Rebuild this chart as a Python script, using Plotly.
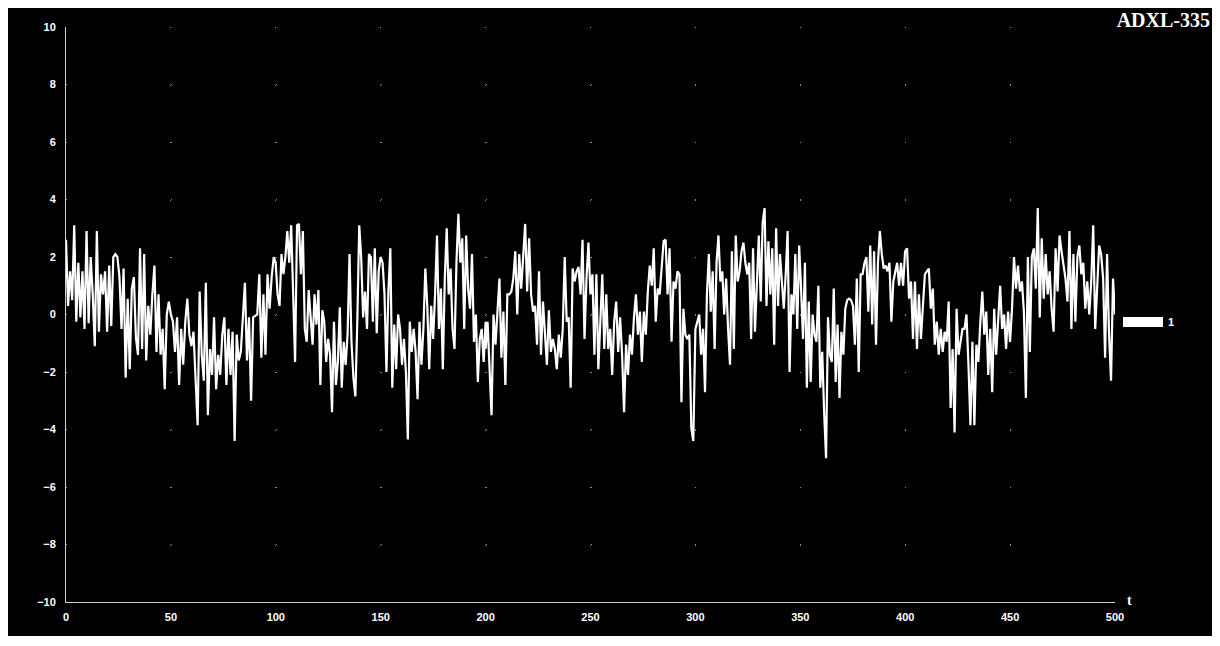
import numpy as np
import plotly.graph_objects as go

# ADXL-335 acceleration readings, by time segment
seg_t = [(0, 99), (99, 200), (200, 299), (300, 398), (399, 500)]

accel_000_099 = [2.6, 0.3, 1.5, 0.5, 3.1, -0.25, 1.8, -0.1, 1.5, -0.5, 2.9, -0.3, 2.0, 0.7, -1.1, 2.9, -0.6, 1.4, 0.7, 1.5,
                 -0.6, 1.7, -0.4, 2.0, 2.1, 2.0, 1.3, -0.5, 1.6, -2.2, 0.55, -1.9, 0.9, 1.3, -0.8, -1.4, 2.3, -1.2, 2.1, -1.6,
                 0.3, -0.7, 0.7, 1.7, -1.3, 0.7, -1.4, -0.5, -2.6, 0.0, 0.45, 0.0, -0.25, -1.3, -0.1, -2.45, -0.5, -1.75, -0.25, 0.55,
                 -0.7, -1.1, -0.6, -2.2, -3.85, 0.8, -1.4, -2.3, 1.1, -3.5, -1.2, -2.1, -0.1, -2.6, -1.4, -2.1, -0.7, -0.1, -2.45, -0.5,
                 -2.1, -0.6, -4.4, -0.7, -1.6, -1.3, 0.0, 1.1, -1.6, -0.1, -3.0, -0.1, -0.05, 0.0, 1.4, -1.5, 0.7, -1.4, 1.4, 0.2,
                 1.3, 2.0]

accel_099_200 = [2.0, 1.8, 0.7, 0.3, 2.1, 1.4, 2.0, 2.9, 1.8, 3.1, 1.0, -1.65, 3.1, 3.15, 1.4, 2.9, -0.5, -0.95, 0.85, -0.25,
                 -1.05, 0.7, -0.35, 0.85, -2.45, 0.15, -0.25, -1.65, -0.85, -1.4, -3.4, -0.25, -2.45, -1.65, 0.25, -2.55, -0.95, -1.75, -0.7, 2.1,
                 -0.95, -2.2, -2.85, -0.25, 3.1, 2.0, -0.1, 0.8, -0.5, 2.1, 2.0, -0.25, 2.3, -0.65, 1.5, 2.0, 1.8, 0.7, -2.0, 0.8,
                 2.3, -2.55, -0.35, -1.9, 0.0, -0.5, -1.75, -0.85, -2.0, -4.35, -0.25, -1.3, -0.5, -1.3, -2.95, -0.25, -1.75, -0.5, 1.6, 0.3,
                 -1.9, 0.3, -0.85, 0.7, 2.75, -0.5, 0.9, -1.9, 1.25, 3.0, 0.7, 1.6, -0.5, -1.2, 1.8, 3.5, 1.8, 2.65, -0.5, 2.75,
                 0.9, 0.2, 2.1, -0.95, 0.0, -2.35, -0.85, -0.5, -1.65, -0.25]

accel_200_299 = [-1.2, -0.25, -1.9, -3.5, 0.0, -1.05, 0.1, 1.25, -1.5, 0.1, -2.45, 0.7, 0.7, 0.8, 1.25, 2.2, 0.0, 2.1, 0.9, 2.0,
                 3.15, 0.8, 2.65, 0.7, 0.1, 0.3, -1.05, 1.5, -1.4, 0.45, -0.85, -1.75, 0.15, -1.3, -0.85, -1.2, -1.9, -0.7, -1.5, -0.5,
                 2.0, -0.25, -0.1, -2.55, 1.6, 1.15, 1.5, 1.65, 0.7, 2.6, -0.85, 1.25, 2.5, 0.7, 1.4, -1.4, 1.4, -1.9, -0.25, 1.4,
                 -1.2, 0.7, -1.2, -0.5, -2.1, -0.25, 0.45, -1.3, -0.1, -1.4, -3.4, -1.05, -2.1, -0.7, -1.4, -0.1, 0.7, -0.7, 0.1, -1.65,
                 0.1, -0.7, 0.8, 1.7, 1.0, 2.3, -0.25, 0.9, 0.7, 1.8, 2.55, 2.6, 0.7, 2.3, -0.95, 1.15, 0.9, 1.5, 1.4, -3.05,
                 0.2, -0.7, -0.85, -0.7, -3.95, -4.4]

accel_300_398 = [-0.5, -0.25, 0.0, -1.4, -0.5, -2.7, 0.7, 2.1, 0.1, 1.5, -1.2, 1.8, 2.75, 1.15, 1.5, 0.0, 1.25, -0.5, -1.75, 2.2,
                 -1.2, 2.75, 1.15, 1.5, 2.2, 2.5, 1.8, 1.4, 1.8, -0.85, 2.3, -0.6, 0.9, 2.75, 0.45, 3.2, 3.7, 0.3, 2.55, 0.7,
                 2.3, -1.05, 3.0, 0.3, 2.1, 1.25, 0.2, 1.4, 2.9, -2.0, 0.7, 0.0, 2.1, -0.5, 2.4, 0.9, -0.85, 1.8, -2.55, 0.45,
                 -2.35, 0.0, -0.7, -0.95, 1.0, -2.55, -1.3, -3.4, -5.0, -0.1, -1.4, -1.65, 0.9, -2.35, -0.35, -2.9, -0.6, -1.4, 0.2, 0.5,
                 0.55, 0.5, 0.3, -1.05, 1.25, -2.0, 1.4, 1.4, 1.8, 2.0, 0.1, 2.4, -0.35, 2.2, -1.05, 1.8, 2.9, 2.1, 1.6, 1.7,
                 1.5, 1.8, -0.25, 1.15, 1.5, 1.8, 1.0, 1.8]

accel_399_500 = [1.0, 2.2, 2.3, 0.55, 1.15, -0.85, 1.15, -1.2, 0.7, -0.85, 0.3, 1.4, 1.5, 1.6, 0.2, 0.9, -1.05, -0.25, -1.4, -0.5,
                 -1.3, -0.6, -0.95, 0.45, -3.25, -1.2, -4.1, 0.2, -1.4, -0.95, -0.5, -0.5, 0.0, -1.75, -3.85, -0.95, -3.85, -1.05, -1.65, -0.25,
                 0.8, -0.7, 0.1, -2.1, -0.5, -2.7, 0.2, -1.4, -0.25, 1.0, -0.5, 0.0, -1.2, 0.1, -0.95, 0.2, 2.0, 0.9, 1.7, 0.8,
                 1.15, 0.1, -2.9, 2.0, -1.3, 2.0, 2.3, 0.9, 3.7, -0.1, 2.65, 0.55, 2.1, 0.7, 1.5, 0.2, -0.6, 2.3, 0.8, 2.75,
                 2.2, 1.7, 1.25, 0.45, 2.9, -0.5, 2.1, -0.25, 2.0, 2.4, 1.4, 1.8, 0.2, 1.15, 0.0, 1.15, 3.1, -0.5, 1.25, 2.4,
                 2.1, 1.25, -1.5, 2.1, -0.7, -2.3, 1.25, 0.0]

segments = [accel_000_099, accel_099_200, accel_200_299, accel_300_398, accel_399_500]

x_ticks = [0, 50, 100, 150, 200, 250, 300, 350, 400, 450, 500]
y_ticks = [-10, -8, -6, -4, -2, 0, 2, 4, 6, 8, 10]

t_all, v_all = [], []
for (t0, t1), vals in zip(seg_t, segments):
    t_all.extend(np.linspace(t0, t1, len(vals)).tolist())
    v_all.extend(vals)

fig = go.Figure()
fig.add_trace(go.Scatter(x=t_all, y=v_all, mode="lines", name="1",
                         line=dict(color="white", width=2.2), showlegend=False,
                         legendgroup="1"))
# legend swatch for the series
fig.add_trace(go.Scatter(x=[None], y=[None], mode="lines", name="1",
                         line=dict(color="white", width=12), legendgroup="1"))

# figure coordinates (page body adds an 8px offset)
W, H = 1212, 628
L, R, T, B = 58, 105, 19, 34
pw, ph = W - L - R, H - T - B
OFF = 8

def px_x(p):  # p = screen pixel
    return (p - OFF - L) / pw

def px_y(p):
    return (H - B - (p - OFF)) / ph

tickfont = dict(family="Arial, 'Liberation Sans', sans-serif", size=11, color="white", weight="bold")

fig.update_layout(
    width=W, height=H,
    margin=dict(l=L, r=R, t=T, b=B, autoexpand=False),
    paper_bgcolor="black",
    plot_bgcolor="black",
    title=dict(text="ADXL-335", x=(W - 10) / W, xanchor="right", xref="container",
               y=1 - (19.5 - OFF) / H, yanchor="middle",
               font=dict(family="'Times New Roman', 'Liberation Serif', serif", size=20, color="white", weight="bold")),
    showlegend=True,
    legend=dict(x=px_x(1118), y=px_y(322), xanchor="left", yanchor="middle",
                bgcolor="rgba(0,0,0,0)", itemwidth=40,
                font=dict(family="Arial, 'Liberation Sans', sans-serif", size=11, color="white", weight="bold")),
    annotations=[dict(text="t", xref="paper", yref="paper", x=px_x(1129), y=px_y(600),
                      xanchor="center", yanchor="middle", showarrow=False,
                      font=dict(family="'Times New Roman', 'Liberation Serif', serif", size=14, color="white", weight="bold"))],
)

fig.update_xaxes(range=[0, 500], tickvals=x_ticks, showline=True, linecolor="#d0d0d0", linewidth=1,
                 showgrid=True, gridcolor="#8a8a8a", gridwidth=1, griddash="1px,56.5px",
                 zeroline=False, ticks="", tickfont=tickfont, ticklabelstandoff=5, fixedrange=True)
fig.update_yaxes(range=[-10, 10], tickvals=y_ticks, showline=True, linecolor="#d0d0d0", linewidth=1,
                 showgrid=True, gridcolor="#8a8a8a", gridwidth=1, griddash="1px,103.9px",
                 zeroline=False, ticks="", tickfont=tickfont, ticklabelstandoff=7, fixedrange=True)

fig.write_html("out.html")
